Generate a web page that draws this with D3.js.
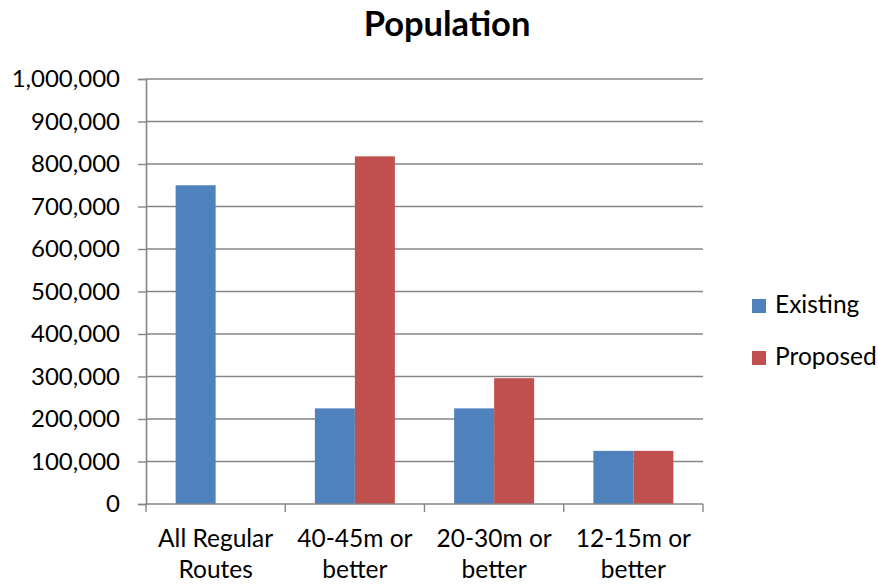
<!DOCTYPE html>
<html>
<head>
<meta charset="utf-8">
<script src="https://cdn.jsdelivr.net/npm/d3@7/dist/d3.min.js"></script>
<style>
  html, body { margin: 0; padding: 0; background: #fff; }
  svg { display: block; font-family: Lato, "Open Sans", sans-serif; }
</style>
</head>
<body>
<svg id="chart" width="878" height="584"></svg>
<script>
// Population served by frequency tier
const categories = [["All Regular", "Routes"], ["40-45m or", "better"], ["20-30m or", "better"], ["12-15m or", "better"]];
const seriesNames = ["Existing", "Proposed"];
const existing = [750000, 225000, 225000, 125000];
const proposed = [0, 818000, 296000, 125000];
const yTicks = [0, 100000, 200000, 300000, 400000, 500000, 600000, 700000, 800000, 900000, 1000000];
const colors = ["#4F81BD", "#C0504D"];

const svg = d3.select("#chart");
const plotLeft = 146, plotRight = 703, plotTop = 79, plotBottom = 504;
const grid = "#868686";

const x = d3.scaleBand().domain(d3.range(categories.length)).range([plotLeft, plotRight])
  .paddingInner(0.4255).paddingOuter(0.2128);
const xs = d3.scaleBand().domain(seriesNames).range([0, x.bandwidth()]);
const y = d3.scaleLinear().domain([0, 1000000]).range([plotBottom, plotTop]);

// title
svg.append("text").attr("x", 447).attr("y", 36).attr("text-anchor", "middle")
  .attr("font-size", 34.5).attr("font-weight", "bold").attr("fill", "#000").text("Population");

// horizontal gridlines
svg.append("g").selectAll("line").data(yTicks.filter(d => d > 0)).join("line")
  .attr("x1", plotLeft).attr("x2", plotRight)
  .attr("y1", d => y(d)).attr("y2", d => y(d))
  .attr("stroke", grid).attr("stroke-width", 1.6);

// y axis
const yAxis = svg.append("g").attr("transform", `translate(${plotLeft},0)`)
  .call(d3.axisLeft(y).tickValues(yTicks).tickFormat(d3.format(",")).tickSize(8).tickPadding(18));
yAxis.select(".domain").attr("stroke", grid).attr("stroke-width", 1.6);
yAxis.selectAll(".tick line").attr("stroke", grid).attr("stroke-width", 1.4);
yAxis.selectAll(".tick text").attr("font-size", 24).attr("fill", "#000")
  .attr("font-family", "Lato, sans-serif");

// bars
const rows = categories.map((c, i) => ({ i, values: [existing[i], proposed[i]] }));
const groups = svg.append("g").selectAll("g").data(rows).join("g")
  .attr("transform", d => `translate(${x(d.i)},0)`);
groups.selectAll("rect").data(d => d.values.map((v, k) => ({ v, k })).filter(e => e.v > 0)).join("rect")
  .attr("x", e => xs(seriesNames[e.k]))
  .attr("width", xs.bandwidth())
  .attr("y", e => y(e.v))
  .attr("height", e => y(0) - y(e.v))
  .attr("fill", e => colors[e.k]);

// x axis line and category dividers
svg.append("line").attr("x1", plotLeft).attr("x2", plotRight).attr("y1", plotBottom).attr("y2", plotBottom)
  .attr("stroke", grid).attr("stroke-width", 1.6);
const step = x.step();
svg.append("g").selectAll("line").data(d3.range(categories.length + 1)).join("line")
  .attr("x1", i => plotLeft + i * step).attr("x2", i => plotLeft + i * step)
  .attr("y1", plotBottom).attr("y2", plotBottom + 8)
  .attr("stroke", grid).attr("stroke-width", 1.4);

// category labels
const lbl = svg.append("g").selectAll("text").data(categories).join("text")
  .attr("text-anchor", "middle").attr("font-size", 24.5).attr("fill", "#000")
  .attr("transform", (d, i) => `translate(${x(i) + x.bandwidth() / 2},0)`);
lbl.selectAll("tspan").data(d => d).join("tspan")
  .attr("x", 0).attr("y", (d, j) => 547 + j * 31).text(d => d);

// legend
const legend = svg.append("g").selectAll("g").data(seriesNames).join("g")
  .attr("transform", (d, i) => `translate(752,${299 + i * 52})`);
legend.append("rect").attr("width", 14).attr("height", 14).attr("fill", (d, i) => colors[i]);
legend.append("text").attr("x", 23).attr("y", 14).attr("font-size", 24.5).attr("fill", "#000").text(d => d);
</script>
</body>
</html>
